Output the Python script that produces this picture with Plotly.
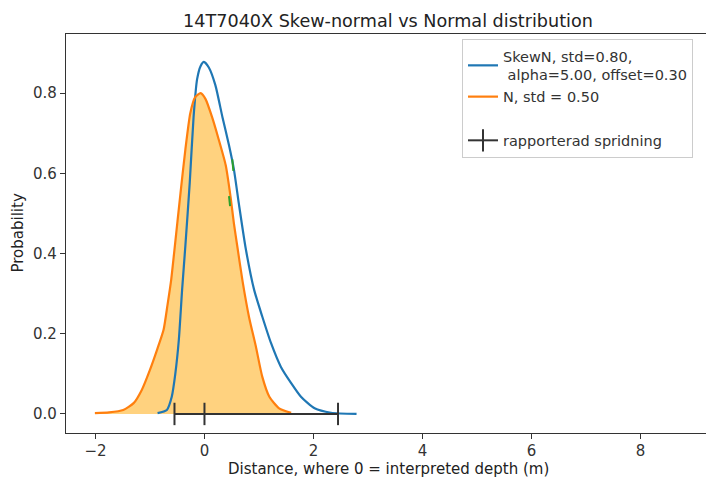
import plotly.graph_objects as go

# Orange: normal distribution (std 0.50)
norm_x = [-2.01, -1.75, -1.49, -1.30, -1.15, -1.00, -0.87, -0.75, -0.68, -0.61, -0.55,
          -0.44, -0.35, -0.26, -0.17, -0.07, 0.02, 0.14, 0.26, 0.39, 0.48, 0.54, 0.60,
          0.70, 0.82, 0.94, 1.06, 1.19, 1.37, 1.59]
norm_y = [0.002, 0.004, 0.010, 0.027, 0.060, 0.110, 0.160, 0.210, 0.270, 0.335, 0.410,
          0.550, 0.660, 0.750, 0.790, 0.800, 0.785, 0.740, 0.685, 0.620, 0.540, 0.475, 0.420,
          0.330, 0.240, 0.170, 0.093, 0.043, 0.014, 0.003]

# Blue: skew-normal distribution
skew_x = [-0.86, -0.69, -0.60, -0.535, -0.47, -0.41, -0.35, -0.27, -0.20, -0.135, -0.07,
          -0.01, 0.08, 0.20, 0.33, 0.45, 0.54, 0.63, 0.76, 0.91, 1.06, 1.22, 1.40, 1.59,
          1.77, 2.02, 2.32, 2.79]
skew_y = [0.002, 0.010, 0.043, 0.100, 0.185, 0.310, 0.420, 0.577, 0.740, 0.835, 0.868,
          0.878, 0.864, 0.820, 0.740, 0.670, 0.610, 0.525, 0.410, 0.310, 0.243, 0.177, 0.118,
          0.077, 0.043, 0.014, 0.003, 0.000]

# small green fragments visible on the curves
green_x = [0.51, 0.53, None, 0.45, 0.47]
green_y = [0.635, 0.606, None, 0.543, 0.518]

# reported spread (error bar)
err_center = [0.0]
err_level = [0.0]
err_minus = [0.55]
err_plus = [2.45]

x_ticks = [-2, 0, 2, 4, 6, 8]
y_ticks = [0.0, 0.2, 0.4, 0.6, 0.8]

skew_label = "SkewN, std=0.80,<br> alpha=5.00, offset=0.30"
norm_label = "N, std = 0.50"
err_label = "rapporterad spridning"
title_text = "14T7040X Skew-normal vs Normal distribution"
x_title = "Distance, where 0 = interpreted depth (m)"
y_title = "Probability"

BLUE = "#1f77b4"
ORANGE = "#ff7f0e"
GREEN = "#2ca02c"
AX = "#333333"
FONT = "DejaVu Sans"

W, H = 706, 477
L, R, T, B = 66, 0, 34, 44

fig = go.Figure()

fig.add_trace(go.Scatter(x=norm_x, y=norm_y, mode="lines", line=dict(width=0, color=ORANGE, shape="spline", smoothing=0.6),
                         fill="tozeroy", fillcolor="rgba(255,165,0,0.5)",
                         showlegend=False, hoverinfo="skip"))
fig.add_trace(go.Scatter(x=skew_x, y=skew_y, mode="lines", name=skew_label,
                         line=dict(color=BLUE, width=2.2, shape="spline", smoothing=0.6)))
fig.add_trace(go.Scatter(x=norm_x, y=norm_y, mode="lines", name=norm_label,
                         line=dict(color=ORANGE, width=2.2, shape="spline", smoothing=0.6)))
fig.add_trace(go.Scatter(x=green_x, y=green_y, mode="lines", line=dict(color=GREEN, width=2),
                         showlegend=False, hoverinfo="skip"))
fig.add_trace(go.Scatter(x=[0], y=[0], mode="lines", name=" ",
                         line=dict(color="rgba(0,0,0,0)", width=1), hoverinfo="skip"))

ex = [err_center[0] - err_minus[0], err_center[0], err_center[0] + err_plus[0]]
ey = [err_level[0]] * 3
fig.add_trace(go.Scatter(x=ex, y=ey, mode="lines+markers", name=err_label,
                         line=dict(color=AX, width=2),
                         marker=dict(symbol="line-ns-open", size=16,
                                     line=dict(color=AX, width=2))))

fig.update_layout(
    width=W, height=H,
    margin=dict(l=L, r=R, t=T, b=B, autoexpand=False),
    paper_bgcolor="white", plot_bgcolor="white",
    font=dict(family=FONT, size=15, color=AX),
    title=dict(text=title_text,
               x=388 / W, xanchor="center", xref="container",
               y=1 - 21 / H, yanchor="middle", yref="container",
               font=dict(family=FONT, size=17.6, color="#222222")),
    legend=dict(x=(462 - L) / (W - L - R), xanchor="left",
                y=(H - B - 39) / (H - T - B), yanchor="top",
                bgcolor="rgba(255,255,255,0.8)", bordercolor="#cccccc", borderwidth=1,
                font=dict(family=FONT, size=14.5, color=AX), tracegroupgap=0),
    showlegend=True,
    annotations=[
        dict(text=x_title, xref="paper", yref="paper", x=(388 - L) / (W - L - R),
             y=-(469 - (H - B)) / (H - T - B), xanchor="center", yanchor="middle",
             showarrow=False, font=dict(family=FONT, size=15, color="#222222")),
        dict(text=y_title, xref="paper", yref="paper", x=-(L - 17) / (W - L - R),
             y=0.5, xanchor="center", yanchor="middle", textangle=-90,
             showarrow=False, font=dict(family=FONT, size=15, color="#222222")),
    ],
)
fig.update_xaxes(range=[-2.54, 9.2], tickvals=x_ticks, ticks="outside", ticklen=5,
                 tickwidth=1.3, tickcolor=AX, showline=True, linecolor=AX, linewidth=1.4,
                 mirror=True, showgrid=False, zeroline=False, automargin=False,
                 ticklabelstandoff=-1)
fig.update_yaxes(range=[-0.0475, 0.9475], tickvals=y_ticks, tickformat=".1f", ticks="outside",
                 ticklen=5, tickwidth=1.3, tickcolor=AX, showline=True, linecolor=AX,
                 linewidth=1.4, mirror=False, showgrid=False, zeroline=False, automargin=False)

fig.write_html("out.html", config={"displayModeBar": False},
               post_script="document.body.style.margin='0';")
